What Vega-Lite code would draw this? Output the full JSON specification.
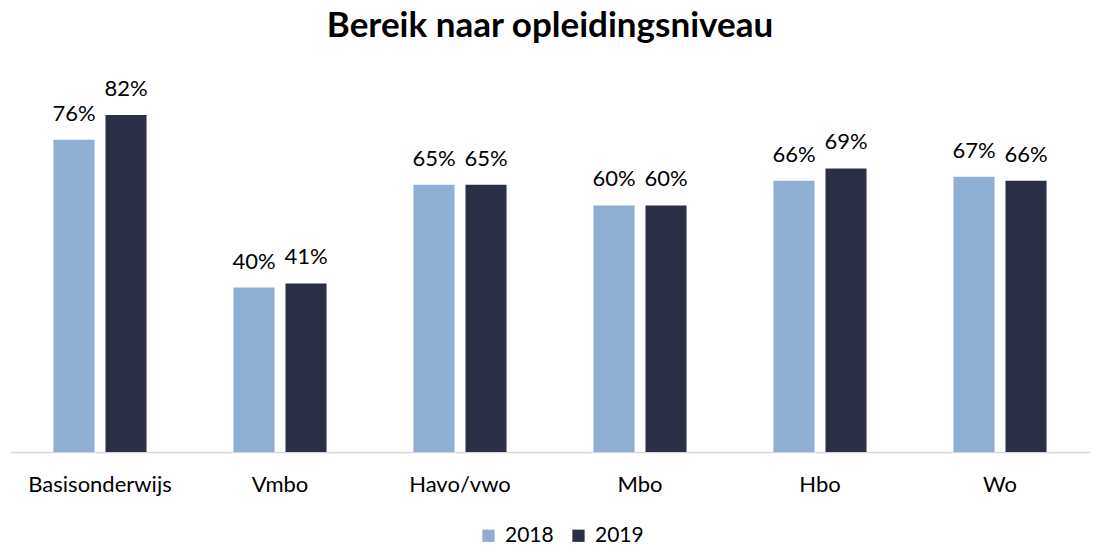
{
  "$schema": "https://vega.github.io/schema/vega-lite/v6.json",
  "width": 1080,
  "height": 411,
  "autosize": "none",
  "padding": {"left": 10, "top": 41, "right": 6, "bottom": 95},
  "background": "white",
  "title": {
    "text": "Bereik naar opleidingsniveau",
    "font": "Lato",
    "fontSize": 35,
    "fontWeight": "bold",
    "color": "#000000",
    "anchor": "middle",
    "baseline": "alphabetic",
    "dy": 35
  },
  "data": {
    "values": [
      {"niveau": "Basisonderwijs", "jaar": "2018", "waarde": 0.76},
      {"niveau": "Basisonderwijs", "jaar": "2019", "waarde": 0.82},
      {"niveau": "Vmbo", "jaar": "2018", "waarde": 0.40},
      {"niveau": "Vmbo", "jaar": "2019", "waarde": 0.41},
      {"niveau": "Havo/vwo", "jaar": "2018", "waarde": 0.65},
      {"niveau": "Havo/vwo", "jaar": "2019", "waarde": 0.65},
      {"niveau": "Mbo", "jaar": "2018", "waarde": 0.60},
      {"niveau": "Mbo", "jaar": "2019", "waarde": 0.60},
      {"niveau": "Hbo", "jaar": "2018", "waarde": 0.66},
      {"niveau": "Hbo", "jaar": "2019", "waarde": 0.69},
      {"niveau": "Wo", "jaar": "2018", "waarde": 0.67},
      {"niveau": "Wo", "jaar": "2019", "waarde": 0.66}
    ]
  },
  "encoding": {
    "x": {
      "field": "niveau",
      "type": "nominal",
      "sort": null,
      "scale": {"paddingInner": 0.483, "paddingOuter": 0.2415},
      "axis": {
        "title": null,
        "labelAngle": 0,
        "labelFont": "Lato",
        "labelFontSize": 22,
        "labelColor": "#000000",
        "labelPadding": 22,
        "ticks": false,
        "domainColor": "#d9d9d9",
        "domainWidth": 1.5,
        "grid": false
      }
    },
    "xOffset": {
      "field": "jaar",
      "type": "nominal",
      "scale": {"paddingInner": 0.2115, "paddingOuter": 0}
    },
    "y": {
      "field": "waarde",
      "type": "quantitative",
      "scale": {"domain": [0, 1]},
      "axis": null
    }
  },
  "layer": [
    {
      "mark": {"type": "bar"},
      "encoding": {
        "color": {
          "field": "jaar",
          "type": "nominal",
          "scale": {"domain": ["2018", "2019"], "range": ["#8eaed4", "#2a2f45"]},
          "legend": {
            "title": null,
            "orient": "none",
            "legendX": 468,
            "legendY": 484,
            "direction": "horizontal",
            "symbolType": "square",
            "symbolSize": 150,
            "symbolStrokeWidth": 0,
            "labelFont": "Lato",
            "labelFontSize": 21,
            "labelColor": "#000000",
            "labelOffset": 6,
            "columnPadding": 14
          }
        }
      }
    },
    {
      "mark": {"type": "text", "baseline": "bottom", "dy": -14, "font": "Lato", "fontSize": 22, "color": "#000000"},
      "encoding": {
        "text": {"field": "waarde", "type": "quantitative", "format": ".0%"},
        "detail": {"field": "jaar"}
      }
    }
  ],
  "config": {"view": {"stroke": null}}
}
